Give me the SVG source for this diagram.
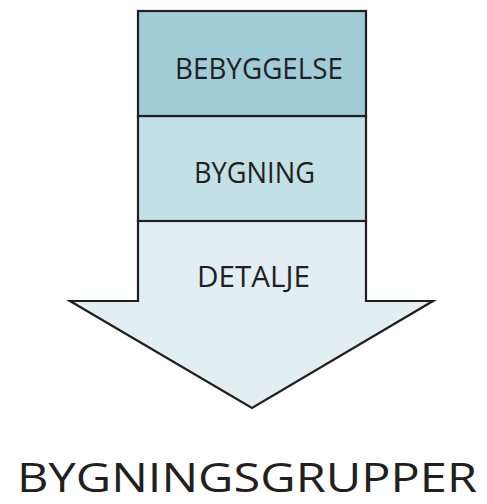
<svg xmlns="http://www.w3.org/2000/svg" width="487" height="504" viewBox="0 0 487 504">
<style>
.s{stroke:#231f20;stroke-width:2.2;stroke-linejoin:miter}
.t{font-family:"Open Sans","Noto Sans",sans-serif;fill:#231f20;text-anchor:middle}
.b{font-size:30px}
</style>
<rect width="487" height="504" fill="#ffffff"/>
<g id="detalje">
<path class="s" d="M138,221 L366,221 L366,301 L433,301 L252,408 L70,301 L138,301 Z" fill="#e1eff3"/>
<text class="t b" x="253.5" y="287" textLength="113" lengthAdjust="spacingAndGlyphs">DETALJE</text>
</g>
<g id="bygning">
<rect class="s" x="138" y="116" width="228" height="105" fill="#c2e0e5"/>
<text class="t b" x="254.5" y="183" textLength="121" lengthAdjust="spacingAndGlyphs">BYGNING</text>
</g>
<g id="bebyggelse">
<rect class="s" x="138" y="11" width="228" height="105" fill="#a0ccd8"/>
<text class="t b" x="259" y="79" textLength="168" lengthAdjust="spacingAndGlyphs">BEBYGGELSE</text>
</g>
<g id="connectors"/>
<text class="t" x="247" y="492" font-size="41" textLength="460" lengthAdjust="spacingAndGlyphs">BYGNINGSGRUPPER</text>
</svg>
